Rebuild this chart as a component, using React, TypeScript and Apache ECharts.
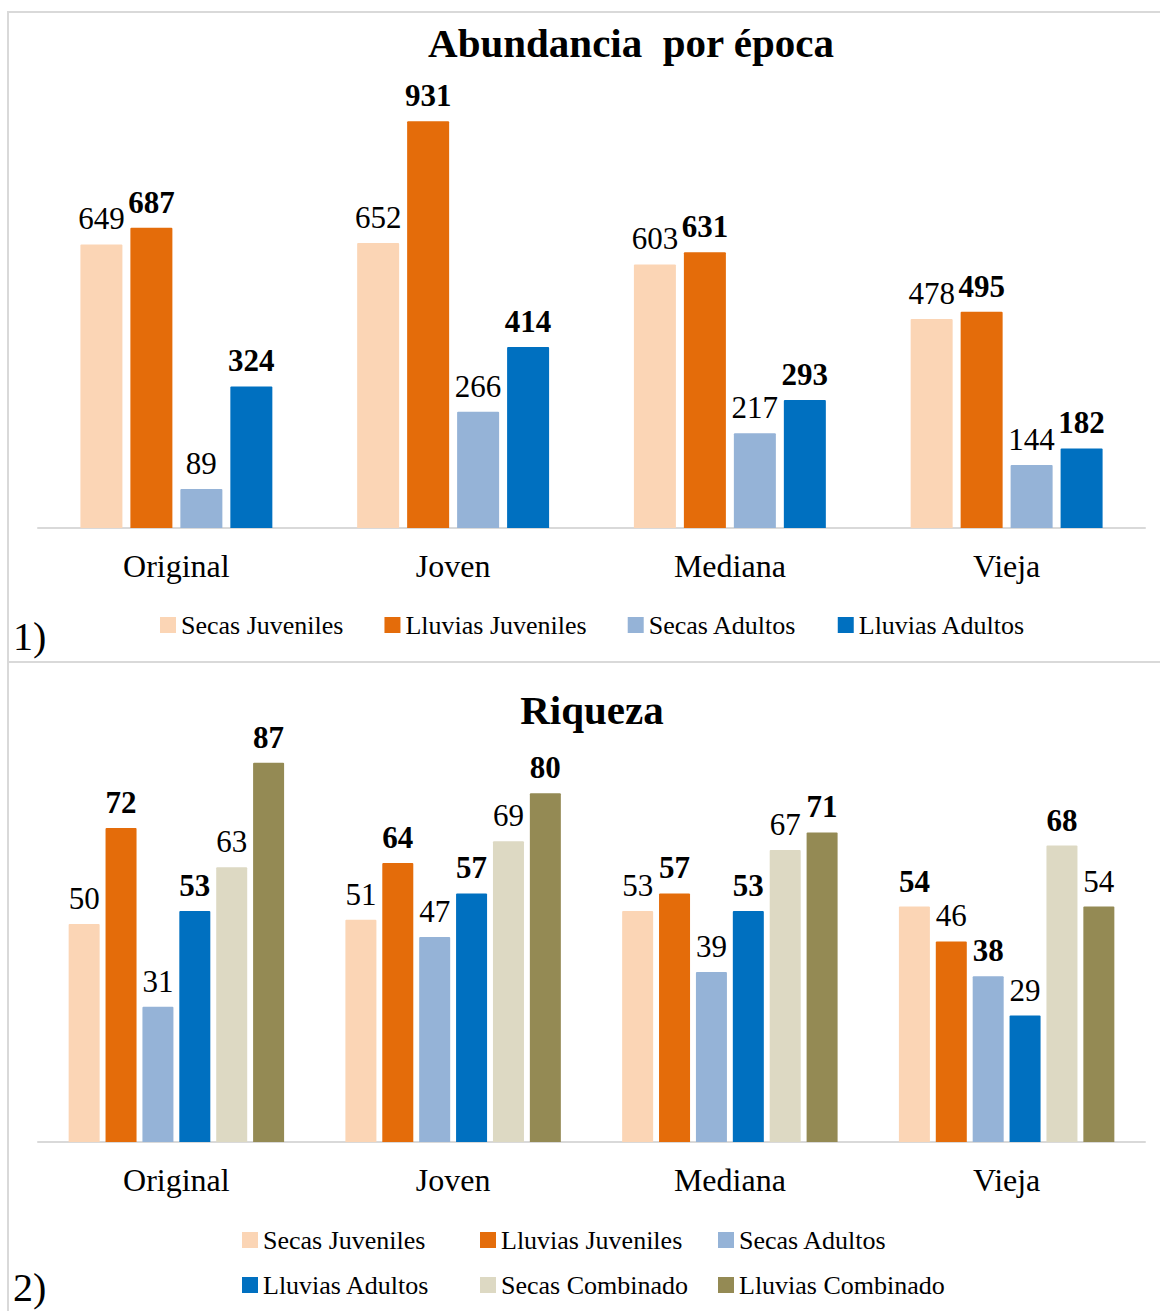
import React, { useEffect, useRef } from 'react';
import * as echarts from 'echarts';

const categories = ['Original', 'Joven', 'Mediana', 'Vieja'];

const titleAbundancia = 'Abundancia  por época';
const titleRiqueza = 'Riqueza';

const nameSecasJuv = 'Secas Juveniles';
const nameLluviasJuv = 'Lluvias Juveniles';
const nameSecasAd = 'Secas Adultos';
const nameLluviasAd = 'Lluvias Adultos';
const nameSecasComb = 'Secas Combinado';
const nameLluviasComb = 'Lluvias Combinado';

// Panel 1: Abundancia por época
const abSecasJuveniles = [649, 652, 603, 478];
const abLluviasJuveniles = [687, 931, 631, 495];
const abSecasAdultos = [89, 266, 217, 144];
const abLluviasAdultos = [324, 414, 293, 182];

// Panel 2: Riqueza
const riSecasJuveniles = [50, 51, 53, 54];
const riLluviasJuveniles = [72, 64, 57, 46];
const riSecasAdultos = [31, 47, 39, 38];
const riLluviasAdultos = [53, 57, 53, 29];
const riSecasCombinado = [63, 69, 67, 68];
const riLluviasCombinado = [87, 80, 71, 54];

const COLORS: Record<string, string> = {
  [nameSecasJuv]: '#FBD5B5',
  [nameLluviasJuv]: '#E46C0A',
  [nameSecasAd]: '#95B3D7',
  [nameLluviasAd]: '#0070C0',
  [nameSecasComb]: '#DDD9C3',
  [nameLluviasComb]: '#948A54',
};

const FONT = '"Liberation Serif", "Times New Roman", serif';

function barSeries(
  name: string,
  values: number[],
  partner: number[],
  axisIndex: number,
  barWidth: number
) {
  return {
    type: 'bar',
    name,
    xAxisIndex: axisIndex,
    yAxisIndex: axisIndex,
    barWidth,
    barGap: '19%',
    itemStyle: { color: COLORS[name], borderRadius: [1, 1, 0, 0] },
    label: {
      show: true,
      position: 'top',
      distance: 10,
      fontSize: 31,
      fontFamily: FONT,
      color: '#000',
    },
    data: values.map((v, i) => ({
      value: v,
      label: { fontWeight: v > partner[i] ? 'bold' : 'normal' },
    })),
  };
}

export default function App() {
  const ref = useRef<HTMLDivElement>(null);

  useEffect(() => {
    if (!ref.current) return;
    const chart = echarts.init(ref.current, null, { renderer: 'svg' });

    const xAxisCommon = {
      type: 'category',
      data: categories,
      axisTick: { show: false },
      axisLine: { lineStyle: { color: '#d9d9d9', width: 2 } },
      axisLabel: { fontSize: 32, fontFamily: FONT, color: '#000', margin: 22 },
    };
    const yAxisCommon = {
      type: 'value',
      show: false,
      min: 0,
      splitLine: { show: false },
    };

    const legendText = { fontSize: 26, fontFamily: FONT, color: '#000' };
    const legendBase = {
      itemWidth: 16,
      itemHeight: 16,
      icon: 'rect',
      padding: 0,
      textStyle: legendText,
    };

    chart.setOption({
      animation: false,
      backgroundColor: '#fff',
      title: [
        {
          text: titleAbundancia,
          left: 626,
          top: 17,
          textAlign: 'center',
          textStyle: { fontSize: 41, fontWeight: 'bold', fontFamily: FONT, color: '#000' },
        },
        {
          text: titleRiqueza,
          left: 587,
          top: 684,
          textAlign: 'center',
          textStyle: { fontSize: 41, fontWeight: 'bold', fontFamily: FONT, color: '#000' },
        },
      ],
      legend: [
        {
          ...legendBase,
          data: [nameSecasJuv, nameLluviasJuv, nameSecasAd, nameLluviasAd],
          left: 160,
          top: 612,
          itemGap: 41,
        },
        {
          ...legendBase,
          orient: 'vertical',
          data: [nameSecasJuv, nameLluviasAd],
          left: 242,
          top: 1227,
          itemGap: 19,
        },
        {
          ...legendBase,
          orient: 'vertical',
          data: [nameLluviasJuv, nameSecasComb],
          left: 480,
          top: 1227,
          itemGap: 19,
        },
        {
          ...legendBase,
          orient: 'vertical',
          data: [nameSecasAd, nameLluviasComb],
          left: 718,
          top: 1227,
          itemGap: 19,
        },
      ],
      grid: [
        { left: 38, width: 1107, top: 91, height: 437 },
        { left: 38, width: 1107, top: 706, height: 436 },
      ],
      xAxis: [
        { ...xAxisCommon, gridIndex: 0 },
        { ...xAxisCommon, gridIndex: 1 },
      ],
      yAxis: [
        { ...yAxisCommon, gridIndex: 0, max: 1000 },
        { ...yAxisCommon, gridIndex: 1, max: 100 },
      ],
      series: [
        barSeries(nameSecasJuv, abSecasJuveniles, abLluviasJuveniles, 0, 42),
        barSeries(nameLluviasJuv, abLluviasJuveniles, abSecasJuveniles, 0, 42),
        barSeries(nameSecasAd, abSecasAdultos, abLluviasAdultos, 0, 42),
        barSeries(nameLluviasAd, abLluviasAdultos, abSecasAdultos, 0, 42),
        barSeries(nameSecasJuv, riSecasJuveniles, riLluviasJuveniles, 1, 31),
        barSeries(nameLluviasJuv, riLluviasJuveniles, riSecasJuveniles, 1, 31),
        barSeries(nameSecasAd, riSecasAdultos, riLluviasAdultos, 1, 31),
        barSeries(nameLluviasAd, riLluviasAdultos, riSecasAdultos, 1, 31),
        barSeries(nameSecasComb, riSecasCombinado, riLluviasCombinado, 1, 31),
        barSeries(nameLluviasComb, riLluviasCombinado, riSecasCombinado, 1, 31),
      ],
      graphic: [
        {
          type: 'rect',
          silent: true,
          shape: { x: 8, y: 12, width: 1300, height: 1400 },
          style: { fill: 'none', stroke: '#d9d9d9', lineWidth: 2 },
        },
        {
          type: 'line',
          silent: true,
          shape: { x1: 8, y1: 662, x2: 1160, y2: 662 },
          style: { stroke: '#d9d9d9', lineWidth: 2 },
        },
        {
          type: 'text',
          silent: true,
          x: 13,
          y: 636,
          style: {
            text: '1)',
            fontSize: 40,
            fontFamily: FONT,
            fill: '#000',
            verticalAlign: 'middle',
            shadowColor: 'rgba(0,0,0,0.35)',
            shadowBlur: 3,
            shadowOffsetX: 1,
            shadowOffsetY: 1,
          },
        },
        {
          type: 'text',
          silent: true,
          x: 13,
          y: 1287,
          style: {
            text: '2)',
            fontSize: 40,
            fontFamily: FONT,
            fill: '#000',
            verticalAlign: 'middle',
            shadowColor: 'rgba(0,0,0,0.35)',
            shadowBlur: 3,
            shadowOffsetX: 1,
            shadowOffsetY: 1,
          },
        },
      ],
    });

    return () => chart.dispose();
  }, []);

  return (
    <div
      ref={ref}
      style={{ position: 'absolute', left: 0, top: 0, width: 1160, height: 1311 }}
    />
  );
}
